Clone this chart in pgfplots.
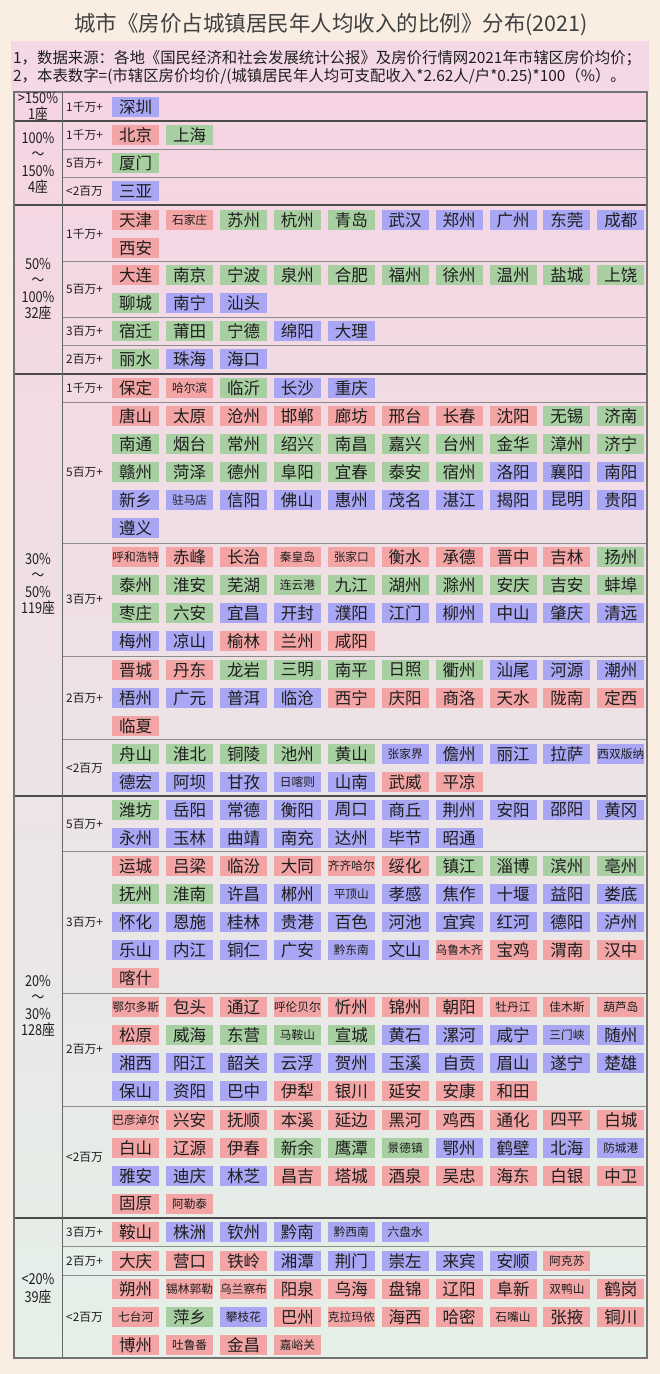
\documentclass[border=0pt]{standalone}
\usepackage{pgfplots}
\pgfplotsset{compat=1.18}
\usepackage{pgfplotstable}
\usepackage{fontspec}
\setmainfont{Noto Sans CJK SC}
\newfontfamily\catfont[FakeStretch=0.85]{Noto Sans CJK SC}
\definecolor{cR}{HTML}{F3A4A4}
\definecolor{cG}{HTML}{A8CFA1}
\definecolor{cB}{HTML}{A9A6F3}
\definecolor{pagebg}{HTML}{FAEEE3}
\definecolor{notebg}{HTML}{F4D8E5}
\definecolor{tabtop}{HTML}{F6D4E3}
\definecolor{tabmid}{HTML}{F1E4EB}
\definecolor{tabbot}{HTML}{E4F0E8}
\definecolor{txtc}{HTML}{1E1E1E}
% k: 11 red, 21 green, 31 blue (two-character names); 12, 22, 32 the same colours with longer names
\pgfplotstableread{
col y k name
0 107 31 深圳
0 135 11 北京
1 135 21 上海
0 163 21 厦门
0 191 31 三亚
0 220 11 天津
1 220 12 石家庄
2 220 21 苏州
3 220 21 杭州
4 220 21 青岛
5 220 31 武汉
6 220 31 郑州
7 220 31 广州
8 220 31 东莞
9 220 31 成都
0 248 11 西安
0 275 11 大连
1 275 21 南京
2 275 21 宁波
3 275 21 泉州
4 275 21 合肥
5 275 21 福州
6 275 21 徐州
7 275 21 温州
8 275 21 盐城
9 275 21 上饶
0 303 21 聊城
1 303 31 南宁
2 303 31 汕头
0 331 21 宿迁
1 331 21 莆田
2 331 21 宁德
3 331 31 绵阳
4 331 31 大理
0 359 21 丽水
1 359 31 珠海
2 359 31 海口
0 388 11 保定
1 388 12 哈尔滨
2 388 21 临沂
3 388 31 长沙
4 388 31 重庆
0 416 11 唐山
1 416 11 太原
2 416 11 沧州
3 416 11 邯郸
4 416 11 廊坊
5 416 11 邢台
6 416 11 长春
7 416 11 沈阳
8 416 21 无锡
9 416 21 济南
0 444 21 南通
1 444 21 烟台
2 444 21 常州
3 444 21 绍兴
4 444 21 南昌
5 444 21 嘉兴
6 444 21 台州
7 444 21 金华
8 444 21 漳州
9 444 21 济宁
0 472 21 赣州
1 472 21 菏泽
2 472 21 德州
3 472 21 阜阳
4 472 21 宜春
5 472 21 泰安
6 472 21 宿州
7 472 31 洛阳
8 472 31 襄阳
9 472 31 南阳
0 500 31 新乡
1 500 32 驻马店
2 500 31 信阳
3 500 31 佛山
4 500 31 惠州
5 500 31 茂名
6 500 31 湛江
7 500 31 揭阳
8 500 31 昆明
9 500 31 贵阳
0 528 31 遵义
0 557 12 呼和浩特
1 557 11 赤峰
2 557 11 长治
3 557 12 秦皇岛
4 557 12 张家口
5 557 11 衡水
6 557 11 承德
7 557 11 晋中
8 557 11 吉林
9 557 21 扬州
0 585 21 泰州
1 585 21 淮安
2 585 21 芜湖
3 585 22 连云港
4 585 21 九江
5 585 21 湖州
6 585 21 滁州
7 585 21 安庆
8 585 21 吉安
9 585 21 蚌埠
0 613 21 枣庄
1 613 21 六安
2 613 31 宜昌
3 613 31 开封
4 613 31 濮阳
5 613 31 江门
6 613 31 柳州
7 613 31 中山
8 613 31 肇庆
9 613 31 清远
0 641 31 梅州
1 641 31 凉山
2 641 11 榆林
3 641 11 兰州
4 641 11 咸阳
0 670 11 晋城
1 670 11 丹东
2 670 21 龙岩
3 670 21 三明
4 670 21 南平
5 670 21 日照
6 670 21 衢州
7 670 31 汕尾
8 670 31 河源
9 670 31 潮州
0 698 31 梧州
1 698 31 广元
2 698 31 普洱
3 698 31 临沧
4 698 11 西宁
5 698 11 庆阳
6 698 11 商洛
7 698 11 天水
8 698 11 陇南
9 698 11 定西
0 726 11 临夏
0 754 21 舟山
1 754 21 淮北
2 754 21 铜陵
3 754 21 池州
4 754 21 黄山
5 754 32 张家界
6 754 31 儋州
7 754 31 丽江
8 754 31 拉萨
9 754 32 西双版纳
0 782 31 德宏
1 782 31 阿坝
2 782 31 甘孜
3 782 32 日喀则
4 782 31 山南
5 782 11 武威
6 782 11 平凉
0 810 21 潍坊
1 810 31 岳阳
2 810 31 常德
3 810 31 衡阳
4 810 31 周口
5 810 31 商丘
6 810 31 荆州
7 810 31 安阳
8 810 31 邵阳
9 810 31 黄冈
0 838 31 永州
1 838 31 玉林
2 838 31 曲靖
3 838 31 南充
4 838 31 达州
5 838 31 毕节
6 838 31 昭通
0 866 11 运城
1 866 11 吕梁
2 866 11 临汾
3 866 11 大同
4 866 12 齐齐哈尔
5 866 11 绥化
6 866 21 镇江
7 866 21 淄博
8 866 21 滨州
9 866 21 亳州
0 894 21 抚州
1 894 21 淮南
2 894 31 许昌
3 894 31 郴州
4 894 32 平顶山
5 894 31 孝感
6 894 31 焦作
7 894 31 十堰
8 894 31 益阳
9 894 31 娄底
0 922 31 怀化
1 922 31 恩施
2 922 31 桂林
3 922 31 贵港
4 922 31 百色
5 922 31 河池
6 922 31 宜宾
7 922 31 红河
8 922 31 德阳
9 922 31 泸州
0 950 31 乐山
1 950 31 内江
2 950 31 铜仁
3 950 31 广安
4 950 32 黔东南
5 950 31 文山
6 950 12 乌鲁木齐
7 950 11 宝鸡
8 950 11 渭南
9 950 11 汉中
0 978 11 喀什
0 1007 12 鄂尔多斯
1 1007 11 包头
2 1007 11 通辽
3 1007 12 呼伦贝尔
4 1007 11 忻州
5 1007 11 锦州
6 1007 11 朝阳
7 1007 12 牡丹江
8 1007 12 佳木斯
9 1007 12 葫芦岛
0 1035 11 松原
1 1035 21 威海
2 1035 21 东营
3 1035 22 马鞍山
4 1035 21 宣城
5 1035 31 黄石
6 1035 31 漯河
7 1035 31 咸宁
8 1035 32 三门峡
9 1035 31 随州
0 1063 31 湘西
1 1063 31 阳江
2 1063 31 韶关
3 1063 31 云浮
4 1063 31 贺州
5 1063 31 玉溪
6 1063 31 自贡
7 1063 31 眉山
8 1063 31 遂宁
9 1063 31 楚雄
0 1091 31 保山
1 1091 31 资阳
2 1091 31 巴中
3 1091 11 伊犁
4 1091 11 银川
5 1091 11 延安
6 1091 11 安康
7 1091 11 和田
0 1120 12 巴彦淖尔
1 1120 11 兴安
2 1120 11 抚顺
3 1120 11 本溪
4 1120 11 延边
5 1120 11 黑河
6 1120 11 鸡西
7 1120 11 通化
8 1120 11 四平
9 1120 11 白城
0 1148 11 白山
1 1148 11 辽源
2 1148 11 伊春
3 1148 21 新余
4 1148 21 鹰潭
5 1148 22 景德镇
6 1148 31 鄂州
7 1148 31 鹤壁
8 1148 31 北海
9 1148 32 防城港
0 1176 31 雅安
1 1176 31 迪庆
2 1176 31 林芝
3 1176 11 昌吉
4 1176 11 塔城
5 1176 11 酒泉
6 1176 11 吴忠
7 1176 11 海东
8 1176 11 白银
9 1176 11 中卫
0 1204 11 固原
1 1204 12 阿勒泰
0 1232 11 鞍山
1 1232 31 株洲
2 1232 31 钦州
3 1232 31 黔南
4 1232 32 黔西南
5 1232 32 六盘水
0 1261 11 大庆
1 1261 11 营口
2 1261 11 铁岭
3 1261 31 湘潭
4 1261 31 荆门
5 1261 31 崇左
6 1261 31 来宾
7 1261 31 安顺
8 1261 12 阿克苏
0 1289 11 朔州
1 1289 12 锡林郭勒
2 1289 12 乌兰察布
3 1289 11 阳泉
4 1289 11 乌海
5 1289 11 盘锦
6 1289 11 辽阳
7 1289 11 阜新
8 1289 12 双鸭山
9 1289 11 鹤岗
0 1317 12 七台河
1 1317 21 萍乡
2 1317 32 攀枝花
3 1317 11 巴州
4 1317 12 克拉玛依
5 1317 11 海西
6 1317 11 哈密
7 1317 12 石嘴山
8 1317 11 张掖
9 1317 11 铜川
0 1345 11 博州
1 1345 12 吐鲁番
2 1345 11 金昌
3 1345 12 嘉峪关
}\cities
\newcommand{\bigfont}{\fontsize{16.5}{16.5}\selectfont}
\newcommand{\smallfont}{\fontsize{11.7}{11.7}\selectfont}
\newcommand{\cityplot}[3]{%
\addplot[only marks, mark=none,
  restrict expr to domain={\thisrow{k}}{#1:#1},
  point meta=explicit symbolic,
  nodes near coords,
  nodes near coords style={anchor=center, fill=#2, font=#3, minimum width=47pt, minimum height=19.5pt, inner sep=0pt, text=txtc},
] table[x expr={135.7+53.9*\thisrow{col}}, y=y, meta=name] {\cities};}
\begin{document}
\begin{tikzpicture}
\begin{axis}[
  scale only axis, width=660pt, height=1374pt,
  xmin=0, xmax=660, ymin=0, ymax=1374, y dir=reverse,
  hide axis, clip=false,
]
% backgrounds
\fill[pagebg] (axis cs:0,0) rectangle (axis cs:660,1374);
\fill[notebg] (axis cs:11,41) rectangle (axis cs:649,92);
\shade[top color=tabtop, middle color=tabmid, bottom color=tabbot]
  (axis cs:14,92) rectangle (axis cs:647,1358);
% title and notes
\node[text=txtc!85, font=\fontsize{21.5}{21.5}\selectfont] at (axis cs:331,24) {城市《房价占城镇居民年人均收入的比例》分布(2021)};
\node[anchor=west, text=txtc, inner sep=0pt, font=\fontsize{15.4}{15.4}\selectfont] at (axis cs:13,58) {1，数据来源：各地《国民经济和社会发展统计公报》及房价行情网2021年市辖区房价均价；};
\node[anchor=west, text=txtc, inner sep=0pt, font=\fontsize{15.4}{15.4}\selectfont] at (axis cs:13,76) {2，本表数字=(市辖区房价均价/(城镇居民年人均可支配收入*2.62人/户*0.25)*100（\%）。};
% grid lines
\pgfplotsinvokeforeach{149,177,261,317,345,402,543,656,739,851,993,1106,1246,1275}
  {\draw[black!45, line width=0.8pt] (axis cs:62,#1) -- (axis cs:647,#1);}
\pgfplotsinvokeforeach{121,205,374,796,1218}
  {\draw[black!70, line width=1.3pt] (axis cs:14,#1) -- (axis cs:647,#1);}
\draw[black!60, line width=1pt] (axis cs:62,92) -- (axis cs:62,1358);
\draw[black!55, line width=1.2pt] (axis cs:14,92) rectangle (axis cs:647,1358);
% category labels
\node[align=center, text=txtc, inner sep=0pt, font=\catfont\fontsize{15}{16.5}\selectfont] at (axis cs:38,106.5) {>150\%\\1座};
\node[align=center, text=txtc, inner sep=0pt, font=\catfont\fontsize{15}{16.5}\selectfont] at (axis cs:38,163) {100\%\\～\\150\%\\4座};
\node[align=center, text=txtc, inner sep=0pt, font=\catfont\fontsize{15}{16.5}\selectfont] at (axis cs:38,289) {50\%\\～\\100\%\\32座};
\node[align=center, text=txtc, inner sep=0pt, font=\catfont\fontsize{15}{16.5}\selectfont] at (axis cs:38,584) {30\%\\～\\50\%\\119座};
\node[align=center, text=txtc, inner sep=0pt, font=\catfont\fontsize{15}{16.5}\selectfont] at (axis cs:38,1006) {20\%\\～\\30\%\\128座};
\node[align=center, text=txtc, inner sep=0pt, font=\catfont\fontsize{15}{18}\selectfont] at (axis cs:38,1288) {<20\%\\39座};
% sub labels
\pgfplotsinvokeforeach{107,135,234,388}{\node[anchor=west, text=txtc, inner sep=0pt, font=\fontsize{11.8}{11.8}\selectfont] at (axis cs:66,#1) {1千万+};}
\pgfplotsinvokeforeach{163,289,472,824}{\node[anchor=west, text=txtc, inner sep=0pt, font=\fontsize{11.8}{11.8}\selectfont] at (axis cs:66,#1) {5百万+};}
\pgfplotsinvokeforeach{331,599,922,1232}{\node[anchor=west, text=txtc, inner sep=0pt, font=\fontsize{11.8}{11.8}\selectfont] at (axis cs:66,#1) {3百万+};}
\pgfplotsinvokeforeach{359,698,1049,1261}{\node[anchor=west, text=txtc, inner sep=0pt, font=\fontsize{11.8}{11.8}\selectfont] at (axis cs:66,#1) {2百万+};}
\pgfplotsinvokeforeach{191,768,1157,1317}{\node[anchor=west, text=txtc, inner sep=0pt, font=\fontsize{11.8}{11.8}\selectfont] at (axis cs:66,#1) {<2百万};}
% city boxes
\cityplot{11}{cR}{\bigfont}
\cityplot{12}{cR}{\smallfont}
\cityplot{21}{cG}{\bigfont}
\cityplot{22}{cG}{\smallfont}
\cityplot{31}{cB}{\bigfont}
\cityplot{32}{cB}{\smallfont}
\end{axis}
\end{tikzpicture}
\end{document}
